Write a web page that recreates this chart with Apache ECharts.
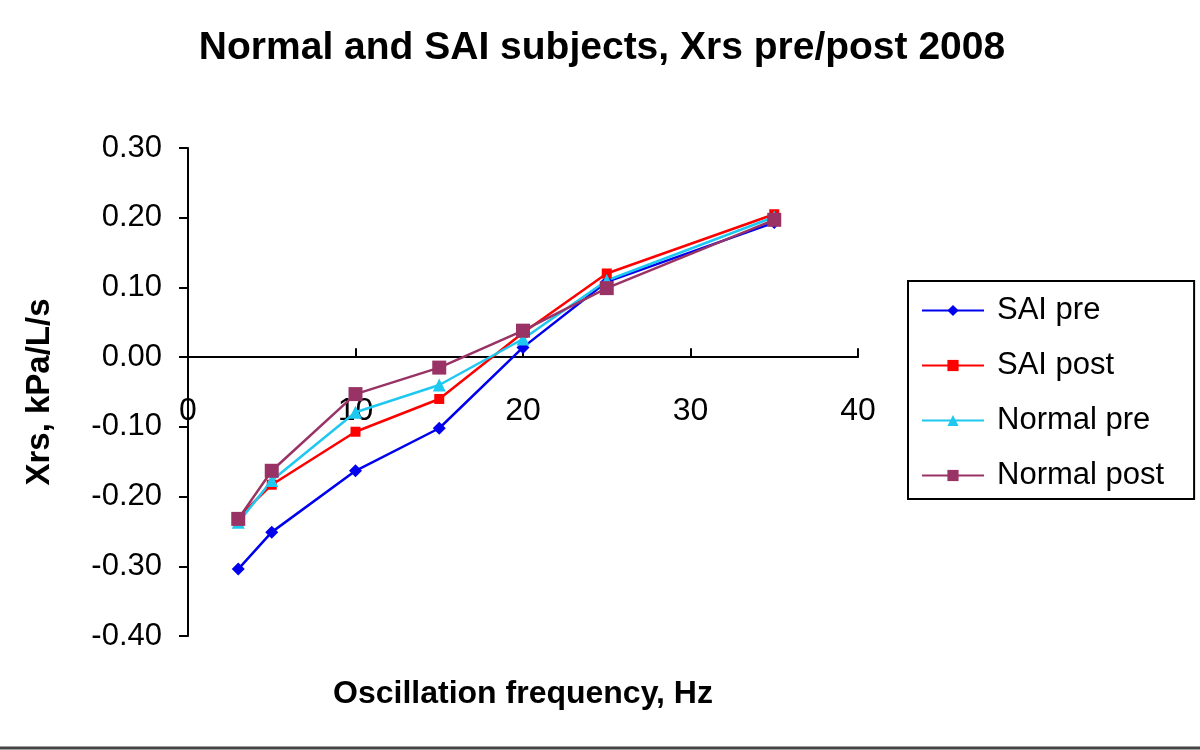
<!DOCTYPE html>
<html>
<head>
<meta charset="utf-8">
<script src="https://cdn.jsdelivr.net/npm/echarts@6/dist/echarts.min.js"></script>
<style>
  html, body { margin: 0; padding: 0; background: #fff; }
  #chart { width: 1200px; height: 750px; }
</style>
</head>
<body>
<div id="chart"></div>
<script>
// oscillation frequency, Hz
var freqs = [3, 5, 10, 15, 20, 25, 35];

// Xrs values, kPa/L/s
var saiPre = [-0.304, -0.251, -0.163, -0.102, 0.014, 0.108, 0.193];
var saiPost = [-0.230, -0.183, -0.107, -0.060, 0.035, 0.120, 0.205];
var normalPre = [-0.237, -0.177, -0.079, -0.040, 0.026, 0.110, 0.201];
var normalPost = [-0.232, -0.163, -0.053, -0.015, 0.038, 0.099, 0.197];

var seriesNames = ["SAI pre", "SAI post", "Normal pre", "Normal post"];

var pairs = function (ys) {
  var out = [];
  for (var i = 0; i < freqs.length; i++) {
    out.push([freqs[i], ys[i]]);
  }
  return out;
};

var chart = echarts.init(document.getElementById("chart"));
var fontFam = "Liberation Sans, Arial, sans-serif";

var mkSeries = function (name, ys, color, symbol, size) {
  return {
    name: name,
    type: "line",
    data: pairs(ys),
    symbol: symbol,
    symbolSize: size,
    lineStyle: { color: color, width: 2.5 },
    itemStyle: { color: color },
    animation: false
  };
};

var option = {
  backgroundColor: "#fff",
  title: {
    text: "Normal and SAI subjects, Xrs pre/post 2008",
    left: 597,
    textAlign: "center",
    top: 24,
    textStyle: { fontFamily: fontFam, fontSize: 39, fontWeight: "bold", color: "#000" }
  },
  legend: {
    orient: "vertical",
    left: 908,
    top: 281,
    padding: [14, 30, 8, 13],
    itemWidth: 62,
    itemHeight: 14,
    itemGap: 24,
    borderColor: "#000",
    borderWidth: 2,
    textStyle: { fontFamily: fontFam, fontSize: 31, color: "#000", padding: [0, 0, 0, 8] },
    data: seriesNames
  },
  grid: { left: 188, right: 342, top: 148, bottom: 114, outerBoundsMode: "none" },
  xAxis: {
    type: "value",
    min: 0,
    max: 40,
    interval: 10,
    name: "Oscillation frequency, Hz",
    nameLocation: "middle",
    nameGap: 42,
    nameTextStyle: { fontFamily: fontFam, fontSize: 32, fontWeight: "bold", color: "#000" },
    axisLine: { onZero: true, lineStyle: { color: "#000", width: 2 } },
    axisTick: { show: true, inside: true, length: 9, lineStyle: { color: "#000", width: 2 } },
    axisLabel: { fontFamily: fontFam, fontSize: 32, color: "#000", margin: -241 },
    splitLine: { show: false }
  },
  yAxis: {
    type: "value",
    min: -0.4,
    max: 0.3,
    interval: 0.1,
    name: "Xrs, kPa/L/s",
    nameLocation: "middle",
    nameGap: 132,
    nameTextStyle: { fontFamily: fontFam, fontSize: 33, fontWeight: "bold", color: "#000" },
    axisLine: { show: true, lineStyle: { color: "#000", width: 2 } },
    axisTick: { show: true, length: 9, lineStyle: { color: "#000", width: 2 } },
    axisLabel: {
      fontFamily: fontFam, fontSize: 31, color: "#000", margin: 26,
      formatter: function (v) { return v.toFixed(2); }
    },
    splitLine: { show: false }
  },
  graphic: [
    {
      type: "line",
      shape: { x1: 0, y1: 748, x2: 1200, y2: 748 },
      style: { stroke: "#444", lineWidth: 3 }
    }
  ],
  series: [
    mkSeries(seriesNames[0], saiPre, "#0000ee", "diamond", 13),
    mkSeries(seriesNames[1], saiPost, "#ff0000", "rect", 10),
    mkSeries(seriesNames[2], normalPre, "#1ec8f0", "triangle", 13),
    mkSeries(seriesNames[3], normalPost, "#993366", "rect", 14)
  ]
};

chart.setOption(option);

window.addEventListener("resize", function () {
  chart.resize();
});
</script>
</body>
</html>
